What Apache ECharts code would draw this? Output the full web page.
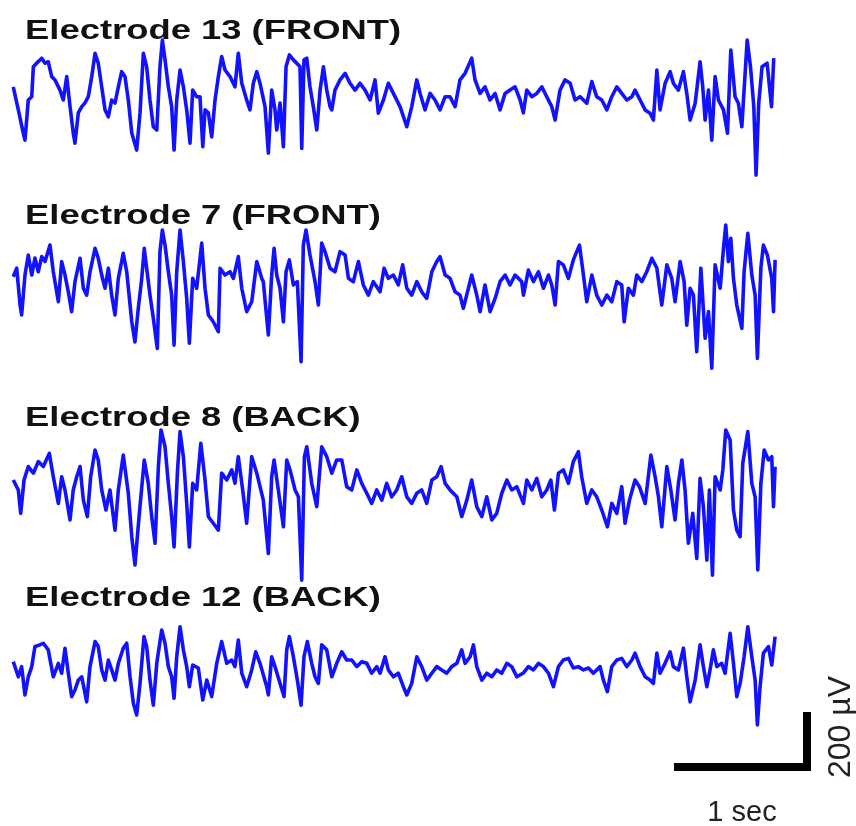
<!DOCTYPE html>
<html><head><meta charset="utf-8">
<script src="https://cdn.jsdelivr.net/npm/echarts@6/dist/echarts.min.js"></script>
<style>html,body{margin:0;padding:0;background:#fff}#c{width:856px;height:826px}</style>
</head><body><div id="c"></div>
<script>
// Trace labels
const LABELS = ['Electrode 13 (FRONT)', 'Electrode 7 (FRONT)', 'Electrode 8 (BACK)', 'Electrode 12 (BACK)'];
// Each trace: [time (s), amplitude (µV)]
const e13 = [[0.002,48],[0.040,-36],[0.077,-120],[0.090,-146],[0.115,0],[0.141,12],[0.153,121],[0.178,134],[0.216,152],[0.241,134],[0.265,139],[0.291,85],[0.316,73],[0.353,36],[0.378,0],[0.404,85],[0.429,-24],[0.453,-120],[0.466,-157],[0.491,-47],[0.517,-24],[0.541,-11],[0.566,12],[0.592,85],[0.617,170],[0.641,134],[0.667,48],[0.692,-36],[0.717,-61],[0.742,0],[0.767,-11],[0.792,48],[0.817,103],[0.842,85],[0.867,0],[0.893,-120],[0.930,-182],[0.955,-47],[0.980,170],[1.005,121],[1.030,0],[1.055,-97],[1.081,-109],[1.105,121],[1.123,218],[1.143,146],[1.168,48],[1.193,-24],[1.211,-182],[1.231,0],[1.256,109],[1.281,48],[1.306,-36],[1.331,-157],[1.351,36],[1.381,12],[1.406,12],[1.427,-170],[1.444,-36],[1.469,-47],[1.494,-134],[1.519,0],[1.544,85],[1.569,158],[1.594,109],[1.632,85],[1.669,48],[1.694,170],[1.720,61],[1.757,0],[1.782,-36],[1.807,61],[1.833,103],[1.857,61],[1.895,-24],[1.920,-193],[1.945,36],[1.970,-36],[1.983,-109],[2.008,-11],[2.033,-170],[2.053,121],[2.078,164],[2.108,146],[2.133,134],[2.158,121],[2.171,-176],[2.188,146],[2.209,152],[2.233,48],[2.258,-24],[2.284,-109],[2.309,36],[2.334,121],[2.359,36],[2.384,-24],[2.397,-36],[2.421,36],[2.459,73],[2.497,97],[2.534,61],[2.572,36],[2.609,61],[2.647,36],[2.685,0],[2.722,73],[2.747,-48],[2.785,0],[2.822,61],[2.860,24],[2.910,-24],[2.961,-97],[2.998,-24],[3.036,73],[3.061,24],[3.098,-36],[3.136,24],[3.173,0],[3.211,-36],[3.249,12],[3.286,12],[3.324,-24],[3.361,73],[3.399,97],[3.449,152],[3.474,73],[3.512,24],[3.549,48],[3.587,0],[3.625,24],[3.662,-36],[3.700,24],[3.737,36],[3.775,48],[3.813,0],[3.837,-47],[3.863,36],[3.901,12],[3.938,24],[3.976,48],[4.013,12],[4.051,-24],[4.076,-73],[4.113,36],[4.151,73],[4.189,61],[4.226,0],[4.264,12],[4.314,-12],[4.352,67],[4.389,12],[4.427,0],[4.465,-36],[4.502,12],[4.540,48],[4.577,24],[4.615,0],[4.653,12],[4.677,36],[4.715,0],[4.753,-36],[4.790,-48],[4.815,-73],[4.841,109],[4.865,-36],[4.903,61],[4.941,103],[4.965,61],[5.003,36],[5.041,103],[5.066,24],[5.091,-73],[5.129,-12],[5.166,139],[5.186,48],[5.204,-73],[5.229,36],[5.254,-146],[5.279,85],[5.304,0],[5.342,-36],[5.372,-121],[5.397,182],[5.429,12],[5.454,-12],[5.480,-97],[5.520,218],[5.545,121],[5.570,-24],[5.587,-273],[5.607,-12],[5.632,121],[5.670,134],[5.703,-24],[5.720,152]];
const e7 = [[0.002,12],[0.028,43],[0.053,-91],[0.065,-127],[0.090,18],[0.115,91],[0.141,18],[0.165,80],[0.190,30],[0.216,85],[0.241,67],[0.278,127],[0.303,30],[0.341,-79],[0.366,67],[0.391,18],[0.416,-43],[0.441,-115],[0.466,-6],[0.504,79],[0.529,-30],[0.554,-55],[0.579,30],[0.617,115],[0.641,79],[0.667,18],[0.692,-30],[0.717,43],[0.742,-55],[0.767,-127],[0.792,6],[0.829,97],[0.855,30],[0.893,-152],[0.917,-225],[0.942,-103],[0.968,6],[0.987,115],[1.005,43],[1.030,-55],[1.055,-139],[1.085,-249],[1.105,103],[1.123,182],[1.143,127],[1.168,30],[1.193,-55],[1.211,-237],[1.231,30],[1.256,182],[1.281,67],[1.306,-67],[1.326,-230],[1.351,6],[1.381,-30],[1.419,134],[1.444,-30],[1.469,-127],[1.506,-152],[1.544,-188],[1.557,43],[1.594,18],[1.632,30],[1.657,6],[1.694,85],[1.720,-30],[1.757,-115],[1.795,-79],[1.833,67],[1.870,6],[1.882,-6],[1.920,-200],[1.945,18],[1.963,115],[1.983,18],[2.008,-30],[2.033,-152],[2.053,30],[2.078,73],[2.108,-18],[2.138,-6],[2.166,-297],[2.183,127],[2.203,182],[2.233,91],[2.271,-6],[2.296,-91],[2.321,134],[2.346,103],[2.384,43],[2.421,30],[2.459,103],[2.497,91],[2.522,6],[2.559,-6],[2.597,67],[2.634,-18],[2.672,-55],[2.709,-6],[2.760,-43],[2.790,43],[2.822,6],[2.860,18],[2.897,-18],[2.930,55],[2.961,-30],[2.998,-55],[3.036,-6],[3.073,-43],[3.111,-67],[3.149,30],[3.186,67],[3.211,85],[3.249,18],[3.286,6],[3.324,-43],[3.361,-55],[3.386,-103],[3.424,-30],[3.449,18],[3.487,-55],[3.512,-115],[3.549,-18],[3.587,-115],[3.625,-67],[3.662,-6],[3.700,18],[3.737,-18],[3.775,18],[3.825,-6],[3.838,-55],[3.875,36],[3.913,-6],[3.951,30],[3.988,-30],[4.026,18],[4.051,-18],[4.076,-91],[4.101,67],[4.138,55],[4.176,6],[4.213,73],[4.259,127],[4.289,18],[4.314,-79],[4.352,18],[4.389,-55],[4.427,-91],[4.465,-55],[4.502,-79],[4.540,-6],[4.577,-18],[4.595,-152],[4.627,-30],[4.665,-55],[4.690,18],[4.728,-6],[4.765,30],[4.803,79],[4.841,43],[4.878,-91],[4.916,55],[4.953,6],[4.978,-79],[5.016,67],[5.046,-6],[5.066,-164],[5.091,-30],[5.116,-55],[5.141,-261],[5.172,43],[5.204,-212],[5.229,-115],[5.254,-321],[5.279,55],[5.317,-30],[5.342,115],[5.359,200],[5.379,67],[5.397,152],[5.417,6],[5.442,-91],[5.480,-176],[5.497,30],[5.525,170],[5.555,18],[5.580,-55],[5.597,-285],[5.623,43],[5.642,127],[5.672,91],[5.705,6],[5.718,-115],[5.730,73]];
const e8 = [[0.002,18],[0.040,-18],[0.058,-103],[0.083,18],[0.115,67],[0.153,43],[0.190,85],[0.228,67],[0.273,115],[0.303,30],[0.341,-67],[0.366,30],[0.391,-18],[0.429,-127],[0.453,-18],[0.479,30],[0.504,67],[0.529,-55],[0.559,-115],[0.584,30],[0.617,127],[0.641,91],[0.667,-18],[0.699,-91],[0.729,-18],[0.767,-164],[0.792,-18],[0.829,109],[0.867,-30],[0.893,-188],[0.917,-291],[0.950,-103],[0.987,91],[1.017,6],[1.043,-115],[1.068,-212],[1.093,67],[1.113,200],[1.143,139],[1.168,6],[1.193,-115],[1.211,-225],[1.236,43],[1.256,194],[1.281,103],[1.306,-67],[1.326,-225],[1.351,6],[1.381,-18],[1.412,152],[1.444,18],[1.469,-115],[1.506,-139],[1.544,-164],[1.569,43],[1.607,18],[1.645,55],[1.669,6],[1.694,103],[1.727,-18],[1.757,-139],[1.795,103],[1.833,43],[1.882,-55],[1.920,-249],[1.945,30],[1.963,91],[1.995,-18],[2.033,-152],[2.058,91],[2.083,55],[2.121,-18],[2.146,-43],[2.171,-346],[2.191,103],[2.209,139],[2.246,6],[2.284,-79],[2.321,139],[2.359,103],[2.397,43],[2.434,91],[2.472,91],[2.509,-6],[2.547,-18],[2.585,55],[2.622,6],[2.660,-30],[2.697,-67],[2.735,-18],[2.773,-55],[2.810,6],[2.848,-43],[2.885,-18],[2.923,30],[2.961,-43],[2.998,-67],[3.036,-30],[3.073,-18],[3.111,-67],[3.149,18],[3.186,30],[3.219,67],[3.249,6],[3.286,-18],[3.337,-43],[3.374,-115],[3.412,-55],[3.449,18],[3.487,-79],[3.525,-115],[3.562,-43],[3.600,-127],[3.637,-103],[3.675,-30],[3.713,18],[3.750,-18],[3.788,-6],[3.838,-67],[3.863,18],[3.901,-18],[3.938,24],[3.976,-43],[4.013,-18],[4.044,18],[4.071,-91],[4.101,43],[4.138,55],[4.176,6],[4.213,85],[4.251,121],[4.276,30],[4.314,-67],[4.352,-18],[4.389,-43],[4.427,-91],[4.469,-152],[4.502,-67],[4.540,-103],[4.577,-6],[4.602,-139],[4.635,-55],[4.677,18],[4.710,-6],[4.753,-67],[4.796,109],[4.828,30],[4.853,-43],[4.878,-152],[4.916,67],[4.946,-18],[4.978,-127],[5.003,6],[5.029,91],[5.053,-18],[5.078,-212],[5.111,-103],[5.141,-267],[5.166,24],[5.191,-79],[5.217,-273],[5.236,-18],[5.259,-328],[5.279,30],[5.317,-18],[5.337,55],[5.359,200],[5.392,164],[5.417,-91],[5.442,-164],[5.467,-188],[5.487,79],[5.525,194],[5.555,6],[5.580,-43],[5.600,-309],[5.623,6],[5.648,127],[5.680,91],[5.705,103],[5.718,-79],[5.730,67]];
const e12 = [[0.002,23],[0.040,-32],[0.065,5],[0.090,-98],[0.115,-32],[0.141,5],[0.165,78],[0.203,84],[0.228,90],[0.265,66],[0.303,-32],[0.341,17],[0.366,-19],[0.391,72],[0.416,-19],[0.441,-104],[0.466,-80],[0.491,-44],[0.517,-32],[0.554,-123],[0.579,5],[0.617,96],[0.641,78],[0.667,-7],[0.692,-44],[0.717,29],[0.742,-7],[0.767,-44],[0.792,17],[0.829,72],[0.855,90],[0.880,-32],[0.905,-128],[0.930,-171],[0.955,-56],[0.985,114],[1.005,78],[1.030,-44],[1.055,-135],[1.081,17],[1.118,138],[1.143,90],[1.168,5],[1.193,-32],[1.211,-110],[1.231,41],[1.256,150],[1.281,66],[1.306,5],[1.326,-68],[1.351,11],[1.393,0],[1.427,-116],[1.457,-44],[1.494,-104],[1.532,17],[1.569,96],[1.607,17],[1.645,29],[1.669,5],[1.694,102],[1.720,-19],[1.757,-68],[1.795,-7],[1.825,59],[1.857,17],[1.908,-68],[1.920,-98],[1.945,41],[1.970,5],[2.008,-56],[2.038,-104],[2.058,66],[2.078,114],[2.108,41],[2.138,-44],[2.166,-135],[2.188,41],[2.213,96],[2.246,17],[2.271,-32],[2.296,-56],[2.321,84],[2.359,66],[2.397,-32],[2.434,17],[2.472,59],[2.509,29],[2.547,29],[2.585,5],[2.622,23],[2.660,17],[2.697,-19],[2.735,5],[2.760,-19],[2.797,41],[2.822,-7],[2.860,-32],[2.897,-19],[2.935,-68],[2.961,-98],[2.998,-56],[3.036,41],[3.073,5],[3.111,-44],[3.149,-19],[3.186,5],[3.224,-7],[3.261,-19],[3.299,5],[3.337,17],[3.374,66],[3.399,17],[3.437,41],[3.462,84],[3.487,5],[3.525,-44],[3.562,-19],[3.600,-32],[3.637,-7],[3.675,-19],[3.713,17],[3.750,5],[3.788,-32],[3.838,-18],[3.875,5],[3.913,-7],[3.951,17],[3.988,5],[4.026,-19],[4.063,-68],[4.101,5],[4.138,29],[4.176,35],[4.213,0],[4.251,5],[4.289,-7],[4.327,0],[4.364,-19],[4.414,5],[4.439,-44],[4.469,-86],[4.502,5],[4.540,29],[4.577,35],[4.615,5],[4.653,29],[4.677,54],[4.715,5],[4.753,-32],[4.790,-44],[4.815,-56],[4.841,54],[4.865,-19],[4.903,17],[4.941,59],[4.965,5],[5.003,-7],[5.041,72],[5.066,-32],[5.091,-123],[5.129,-44],[5.166,84],[5.191,5],[5.217,-68],[5.241,-7],[5.266,66],[5.292,5],[5.329,17],[5.354,-19],[5.392,126],[5.417,17],[5.442,-104],[5.467,-56],[5.497,41],[5.525,150],[5.555,41],[5.580,-44],[5.597,-207],[5.617,-68],[5.642,54],[5.680,78],[5.705,11],[5.730,114]];
// Scale bar: 1 s horizontal, 200 µV vertical
const SCALE_T = [4.97, 5.97, 5.97];
const SCALE_V = [-360, -360, -160];
const SCALE_TEXT = ['1 sec', '200 µV'];

const TRACES = [e13, e7, e8, e12];
const CENTERS = [100, 280, 485, 668];
const LABEL_Y = [31, 216, 418, 598];
const PX_PER_SEC = 133, PX_PER_UV = 0.275, YR = 360;
const LEFT = 13, WIDTH = 763, BAR_WIDTH = 830;
const H = 2 * YR * PX_PER_UV;

const chart = echarts.init(document.getElementById('c'), null, {renderer: 'canvas'});
const grids = [], xAxes = [], yAxes = [], series = [];
TRACES.forEach((tr, i) => {
  grids.push({left: LEFT, width: WIDTH, top: CENTERS[i] - H / 2, height: H, containLabel: false});
  xAxes.push({type: 'value', gridIndex: i, min: 0, max: WIDTH / PX_PER_SEC, show: false});
  yAxes.push({type: 'value', gridIndex: i, min: -YR, max: YR, show: false});
  series.push({type: 'line', xAxisIndex: i, yAxisIndex: i, data: tr, showSymbol: false, symbol: 'none',
    clip: false, lineStyle: {color: '#1212ff', width: 3.6, join: 'round'}, z: 2});
});
// scale bar grid: same scales as trace 4, wider extent
grids.push({left: LEFT, width: BAR_WIDTH, top: CENTERS[3] - H / 2, height: H, containLabel: false});
xAxes.push({type: 'value', gridIndex: 4, min: 0, max: BAR_WIDTH / PX_PER_SEC, show: false});
yAxes.push({type: 'value', gridIndex: 4, min: -YR, max: YR, show: false});
series.push({type: 'line', xAxisIndex: 4, yAxisIndex: 4, data: SCALE_T.map((t, k) => [t, SCALE_V[k]]),
  showSymbol: false, symbol: 'none', clip: false, lineStyle: {color: '#000', width: 8, cap: 'butt', join: 'miter'}, z: 3});

const graphic = LABELS.map((s, i) => ({
  type: 'text', x: 25, y: LABEL_Y[i], scaleX: 1.3, z: 10,
  style: {text: s, fontSize: 28, fontWeight: 'bold', fontFamily: '"Liberation Sans", Arial, sans-serif',
    fill: '#111', align: 'left', verticalAlign: 'middle'}
}));
graphic.push({type: 'text', x: 742, y: 813, z: 10,
  style: {text: SCALE_TEXT[0], fontSize: 29, fontFamily: '"Liberation Sans", Arial, sans-serif', fill: '#222', align: 'center', verticalAlign: 'middle'}});
graphic.push({type: 'text', x: 841, y: 727, rotation: Math.PI / 2, z: 10,
  style: {text: SCALE_TEXT[1], fontSize: 32, fontFamily: '"Liberation Sans", Arial, sans-serif', fill: '#222', align: 'center', verticalAlign: 'middle'}});

chart.setOption({animation: false, backgroundColor: '#fff', grid: grids, xAxis: xAxes, yAxis: yAxes, series, graphic, tooltip: {show: false}});
</script></body></html>
